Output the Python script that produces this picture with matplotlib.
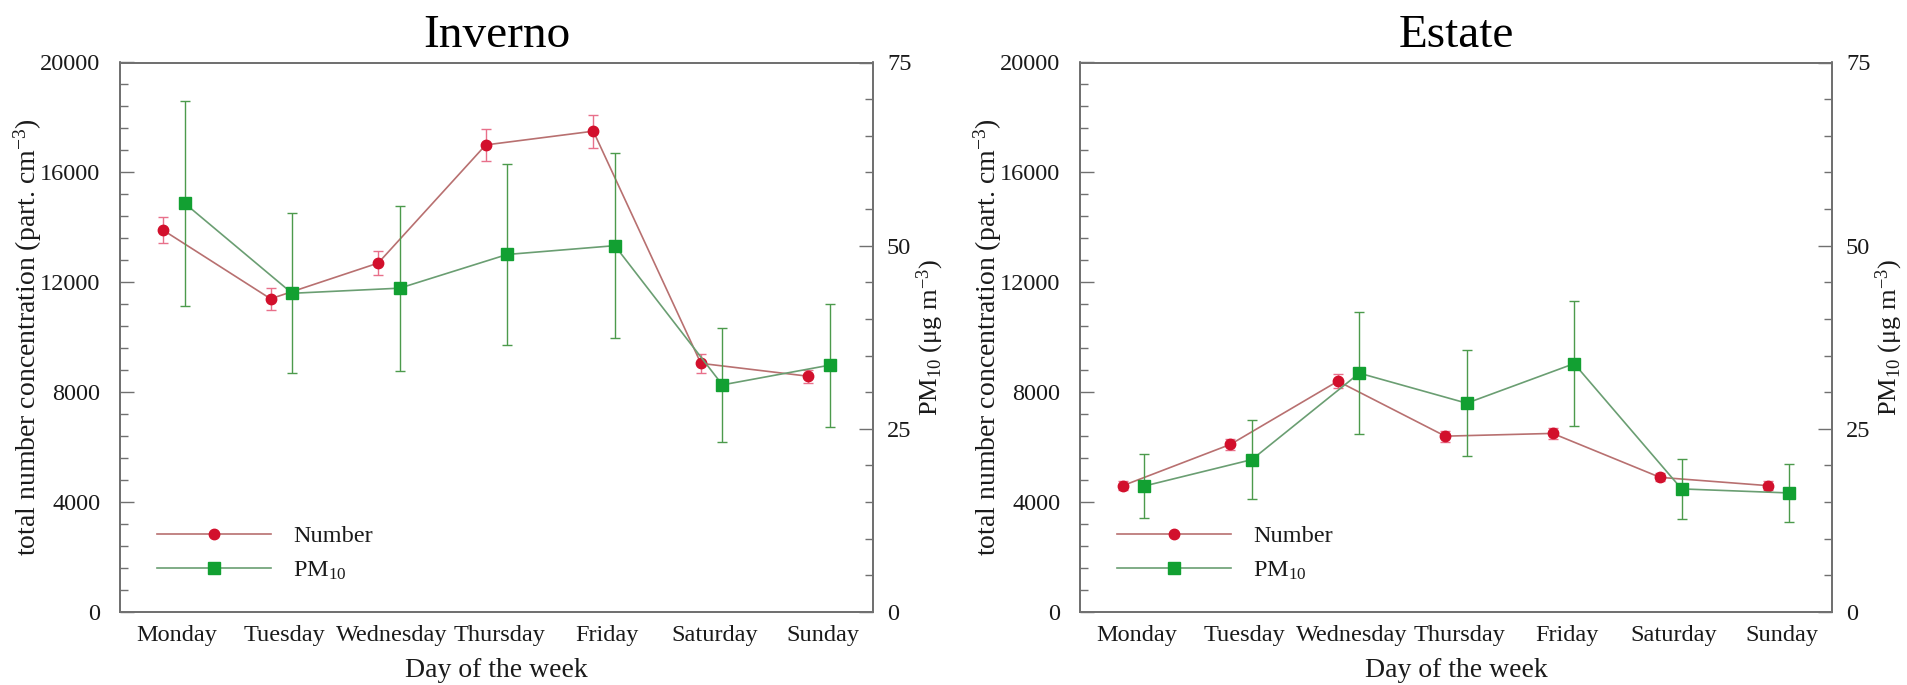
import matplotlib
matplotlib.use("Agg")
import matplotlib.pyplot as plt
import numpy as np
from matplotlib.ticker import MultipleLocator

plt.rcParams['font.family'] = ['Liberation Serif', 'DejaVu Serif']
plt.rcParams['mathtext.fontset'] = 'custom'
plt.rcParams['mathtext.rm'] = 'Liberation Serif'
plt.rcParams['mathtext.it'] = 'Liberation Serif:italic'
plt.rcParams['mathtext.bf'] = 'Liberation Serif:bold'

# ---------------- data ----------------
days = ['Monday', 'Tuesday', 'Wednesday', 'Thursday', 'Friday', 'Saturday', 'Sunday']
titles = ['Inverno', 'Estate']

winter_number = [13900, 11400, 12700, 17000, 17500, 9050, 8580]
winter_number_err = [470, 390, 430, 580, 600, 335, 240]
winter_pm10 = [55.8, 43.5, 44.2, 48.8, 50.0, 31.0, 33.7]
winter_pm10_err = [14.0, 10.9, 11.25, 12.35, 12.6, 7.8, 8.4]

summer_number = [4600, 6100, 8400, 6400, 6500, 4900, 4600]
summer_number_err = [150, 200, 250, 200, 200, 150, 150]
summer_pm10 = [17.2, 20.8, 32.6, 28.5, 33.9, 16.8, 16.25]
summer_pm10_err = [4.4, 5.4, 8.3, 7.2, 8.5, 4.1, 4.0]

left_ticks = [0, 4000, 8000, 12000, 16000, 20000]
right_ticks = [0, 25, 50, 75]

series = [
    (winter_number, winter_number_err, winter_pm10, winter_pm10_err),
    (summer_number, summer_number_err, summer_pm10, summer_pm10_err),
]

# ---------------- style ----------------
RED = '#d2102c'
RED_LINE = '#b87070'
RED_ERR = '#e8708a'
GREEN = '#12a032'
GREEN_LINE = '#6a9e72'
GREEN_ERR = '#4c9a4c'
SPINE = '#707070'
TXT = '#1a1a1a'
TICK_FS = 17.5
LABEL_FS = 20

W, H = 1907, 685
fig = plt.figure(figsize=(W / 100, H / 100), dpi=100)

ax_px = [(120, 753), (1080, 752)]
bottom_px, height_px = 73, 549.5

x = np.arange(len(days))
off = 0.1

for k, ((xl, wp), (num, num_err, pm, pm_err)) in enumerate(zip(ax_px, series)):
    ax = fig.add_axes([xl / W, bottom_px / H, wp / W, height_px / H])
    ax2 = ax.twinx()

    l1, = ax.plot(x - off, num, color=RED_LINE, lw=1.2, marker='o', ms=7.5,
                  mfc=RED, mec=RED, zorder=3)
    ax.errorbar(x - off, num, yerr=num_err, fmt='none', ecolor=RED_ERR,
                elinewidth=1.0, capsize=3.5, capthick=1.0, zorder=2)

    l2, = ax2.plot(x + off, pm, color=GREEN_LINE, lw=1.2, marker='s', ms=8,
                   mfc=GREEN, mec=GREEN, zorder=3)
    ax2.errorbar(x + off, pm, yerr=pm_err, fmt='none', ecolor=GREEN_ERR,
                 elinewidth=1.0, capsize=3.5, capthick=1.0, zorder=2)

    ax.set_xlim(-0.5, 6.5)
    ax.set_ylim(0, 20000)
    ax2.set_ylim(0, 75)
    ax.set_xticks(x + 0.03)
    ax.set_xticklabels(days)
    ax.set_yticks(left_ticks)
    ax.yaxis.set_minor_locator(MultipleLocator(800))
    ax2.set_yticks(right_ticks)
    ax2.yaxis.set_minor_locator(MultipleLocator(5))

    ax.tick_params(axis='x', length=0, pad=9, labelsize=TICK_FS, labelcolor=TXT)
    ax.tick_params(axis='y', which='major', direction='in', length=10, width=1.0,
                   color=SPINE, pad=14, labelsize=TICK_FS, labelcolor=TXT)
    ax.tick_params(axis='y', which='minor', direction='in', length=5.5, width=1.0,
                   color=SPINE)
    ax2.tick_params(axis='y', which='major', direction='in', length=10, width=1.0,
                    color=SPINE, pad=10, labelsize=TICK_FS, labelcolor=TXT)
    ax2.tick_params(axis='y', which='minor', direction='in', length=5.5, width=1.0,
                    color=SPINE)

    for a in (ax, ax2):
        for s in a.spines.values():
            s.set_color(SPINE)
            s.set_linewidth(1.3)

    ax.set_xlabel('Day of the week', fontsize=LABEL_FS, color=TXT, labelpad=9)
    ax.set_ylabel('total number concentration (part. cm$^{-3}$)', fontsize=LABEL_FS,
                  color=TXT, labelpad=-3)
    ax2.set_ylabel('PM$_{10}$ (μg m$^{-3}$)', fontsize=19, color=TXT,
                   labelpad=2)
    ax.set_title(titles[k], fontsize=34, color='black', pad=11)

    leg = ax.legend([l1, l2], ['Number', 'PM$_{10}$'], loc='lower left',
                    bbox_to_anchor=(0.02, 0.015), frameon=False, fontsize=TICK_FS,
                    handlelength=4.7, handletextpad=0.9, labelspacing=0.5,
                    numpoints=1)
    for t in leg.get_texts():
        t.set_color(TXT)
    ax2.set_zorder(ax.get_zorder() + 1)
    ax.patch.set_visible(True)
    ax2.patch.set_visible(False)

fig.savefig('out.png', dpi=100)
